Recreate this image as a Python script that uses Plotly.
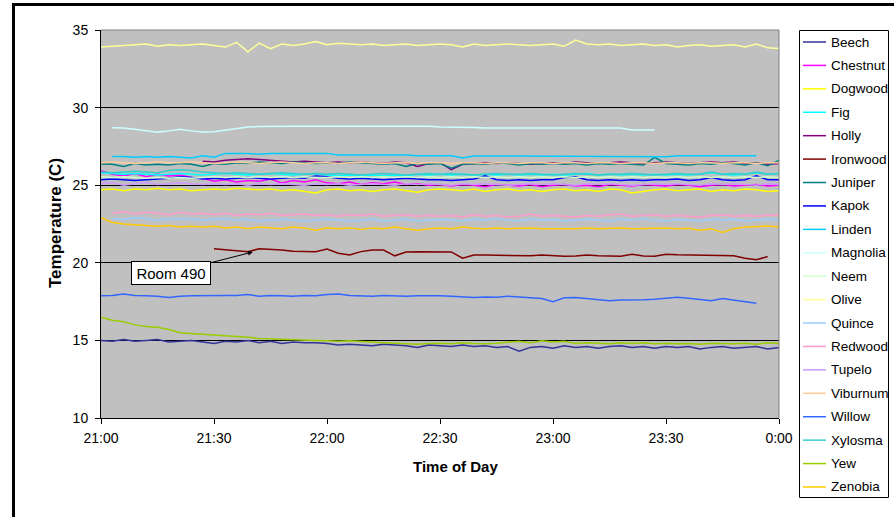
import pandas as pd
import plotly.graph_objects as go

# Sampling times: every 3 minutes from 21:00 to midnight
times = pd.date_range("2000-01-01 21:00", periods=61, freq="3min")

beech = [15.0, 14.95, 15.05, 14.95, 15.0, 15.05, 14.9, 14.95, 15.0, 14.9,
         14.8, 14.95, 14.9, 15.0, 14.85, 14.95, 14.8, 14.9, 14.85, 14.85,
         14.8, 14.7, 14.75, 14.7, 14.65, 14.75, 14.7, 14.65, 14.55, 14.7,
         14.65, 14.6, 14.7, 14.6, 14.65, 14.55, 14.6, 14.3, 14.55, 14.6,
         14.5, 14.65, 14.55, 14.6, 14.5, 14.6, 14.65, 14.55, 14.6, 14.5,
         14.6, 14.55, 14.6, 14.45, 14.55, 14.6, 14.5, 14.55, 14.6, 14.45, 14.55]
chestnut = [25.93, 25.7, 25.6, 25.75, 25.55, 25.7, 25.6, 25.65, 25.5, 25.45,
            25.25, 25.35, 25.2, 25.3, 25.25, 25.4, 25.15, 25.3, 25.2, 25.35,
            25.15, 25.1, 25.2, 25.05, 25.15, 25.1, 25.2, 25.05, 25.1, 25.0,
            25.05, 24.95, 25.05, 25.0, 24.9, 25.05, 25.0, 24.95, 25.05, 24.9,
            25.0, 25.05, 24.95, 25.0, 24.9, 25.05, 25.0, 24.95, 25.05, 25.0,
            24.95, 25.05, 25.0, 24.9, 25.0, 25.05, 24.95, 25.0, 25.05, 24.95, 25.0]
dogwood = [24.7, 24.75, 24.65, 24.75, 24.7, 24.8, 24.7, 24.75, 24.65, 24.7,
           24.75, 24.7, 24.8, 24.75, 24.7, 24.75, 24.65, 24.7, 24.6, 24.5,
           24.7, 24.75, 24.65, 24.7, 24.6, 24.7, 24.75, 24.65, 24.55, 24.7,
           24.75, 24.7, 24.65, 24.75, 24.6, 24.7, 24.75, 24.65, 24.7, 24.6,
           24.7, 24.75, 24.65, 24.7, 24.6, 24.75, 24.7, 24.5, 24.6, 24.7,
           24.75, 24.65, 24.7, 24.75, 24.6, 24.7, 24.65, 24.75, 24.7, 24.6, 24.65]
fig_t = [25.8, 25.75, 25.7, 25.75, 25.7, 25.65, 25.7, 25.75, 25.7, 25.65,
         25.7, 25.75, 25.7, 25.65, 25.7, 25.75, 25.7, 25.65, 25.7, 25.75,
         25.65, 25.6, 25.65, 25.6, 25.65, 25.6, 25.65, 25.6, 25.7, 25.65,
         25.7, 25.65, 25.7, 25.65, 25.7, 25.65, 25.7, 25.65, 25.7, 25.65,
         25.7, 25.65, 25.7, 25.75, 25.65, 25.7, 25.65, 25.7, 25.65, 25.7,
         25.65, 25.7, 25.65, 25.7, 25.8, 25.7, 25.65, 25.7, 25.8, 25.7, 25.75]
holly = [None, None, None, None, None, None, None, None, None, 26.55,
         26.5, 26.6, 26.65, 26.7, 26.65, 26.6, 26.55, 26.5, 26.55, 26.5,
         26.45, 26.5, 26.45, 26.5, 26.45, 26.4, 26.5, 26.45, 26.2, 26.4,
         26.45, 26.0, 26.35, 26.4, 26.45, 26.4, 26.45, 26.4, 26.35, 26.4,
         26.45, 26.4, 26.5, 26.45, 26.4, 26.45, 26.5, 26.45, 26.4, 26.45,
         26.5, 26.45, 26.4, 26.45, 26.5, 26.45, 26.5, 26.4, 26.45, 26.35, 26.4]
ironwood = [None, None, None, None, None, None, None, None, None, None,
            20.9, 20.85, 20.8, 20.72, 20.9, 20.88, 20.83, 20.75, 20.72, 20.72,
            20.88, 20.62, 20.5, 20.72, 20.83, 20.82, 20.45, 20.7, 20.72, 20.72,
            20.72, 20.7, 20.3, 20.5, 20.5, 20.48, 20.45, 20.45, 20.45, 20.5,
            20.45, 20.42, 20.44, 20.5, 20.45, 20.45, 20.42, 20.55, 20.44, 20.42,
            20.55, 20.52, 20.5, 20.48, 20.45, 20.45, 20.45, 20.3, 20.2, 20.4, None]
juniper = [26.37, 26.35, 26.2, 26.4, 26.3, 26.35, 26.3, 26.4, 26.35, 26.2,
           26.4, 26.35, 26.45, 26.4, 26.5, 26.45, 26.4, 26.5, 26.45, 26.4,
           26.45, 26.4, 26.5, 26.45, 26.4, 26.35, 26.4, 26.2, 26.4, 26.35,
           26.4, 26.1, 26.35, 26.4, 26.35, 26.45, 26.4, 26.3, 26.4, 26.35,
           26.4, 26.35, 26.4, 26.3, 26.4, 26.35, 26.4, 26.35, 26.3, 26.8,
           26.4, 26.35, 26.3, 26.4, 26.35, 26.45, 26.4, 26.3, 26.45, 26.25, 26.6]
kapok = [25.35, 25.4, 25.35, 25.3, 25.35, 25.4, 25.45, 25.55, 25.5, 25.4,
         25.45, 25.4, 25.45, 25.5, 25.45, 25.4, 25.45, 25.5, 25.45, 25.6,
         25.55, 25.45, 25.4, 25.45, 25.4, 25.35, 25.4, 25.45, 25.4, 25.35,
         25.35, 25.3, 25.35, 25.4, 25.6, 25.35, 25.3, 25.35, 25.3, 25.35,
         25.35, 25.5, 25.55, 25.35, 25.3, 25.35, 25.3, 25.35, 25.3, 25.35,
         25.35, 25.4, 25.3, 25.35, 25.5, 25.35, 25.3, 25.35, 25.6, 25.35, 25.35]
linden = [None, 26.85, 26.85, 26.8, 26.85, 26.8, 26.85, 26.8, 26.75, 26.9,
          26.8, 27.05, 27.05, 27.05, 27.0, 27.05, 27.05, 27.05, 27.05, 27.05,
          27.05, 26.95, 26.95, 26.95, 26.95, 26.95, 26.95, 26.95, 26.9, 26.9,
          26.9, 26.9, 26.75, 26.88, 26.88, 26.88, 26.88, 26.88, 26.88, 26.84,
          26.84, 26.84, 26.84, 26.84, 26.84, 26.84, 26.84, 26.84, 26.84, 26.84,
          26.84, 26.9, 26.9, 26.9, 26.9, 26.9, 26.9, 26.9, 26.9, None, None]
magnolia = [None, 28.7, 28.68, 28.6, 28.5, 28.42, 28.5, 28.6, 28.5, 28.42,
            28.45, 28.55, 28.65, 28.75, 28.78, 28.8, 28.8, 28.8, 28.8, 28.8,
            28.8, 28.8, 28.8, 28.8, 28.8, 28.8, 28.8, 28.8, 28.8, 28.8,
            28.75, 28.75, 28.75, 28.72, 28.68, 28.68, 28.68, 28.68, 28.68, 28.68,
            28.68, 28.68, 28.68, 28.68, 28.68, 28.68, 28.68, 28.56, 28.56, 28.56,
            None, None, None, None, None, None, None, None, None, None, None]
neem = [25.55, 25.5, 25.55, 25.5, 25.45, 25.5, 25.45, 25.5, 25.45, 25.5,
        25.55, 25.5, 25.55, 25.5, 25.55, 25.5, 25.55, 25.5, 25.55, 25.5,
        25.5, 25.55, 25.5, 25.55, 25.5, 25.55, 25.5, 25.55, 25.5, 25.55,
        25.5, 25.55, 25.5, 25.55, 25.5, 25.55, 25.5, 25.55, 25.5, 25.55,
        25.5, 25.55, 25.5, 25.55, 25.5, 25.55, 25.5, 25.55, 25.5, 25.55,
        25.5, 25.55, 25.5, 25.55, 25.5, 25.55, 25.5, 25.55, 25.5, 25.55, 25.5]
olive = [33.9, 33.95, 34.0, 34.05, 34.1, 33.95, 34.05, 34.0, 34.05, 34.1,
         34.0, 33.9, 34.2, 33.6, 34.15, 33.8, 34.1, 34.0, 34.1, 34.25,
         34.05, 34.15, 34.1, 34.05, 34.1, 34.0, 34.05, 34.1, 34.0, 34.05,
         34.1, 34.05, 33.9, 34.1, 34.0, 34.05, 34.1, 34.05, 34.0, 34.05,
         34.1, 33.95, 34.35, 34.1, 34.05, 34.1, 34.0, 34.05, 34.1, 34.0,
         34.05, 33.9, 34.0, 34.05, 33.95, 34.0, 34.05, 33.9, 34.1, 33.85, 33.8]
quince = [None, 22.85, 22.8, 22.9, 22.85, 22.75, 22.8, 22.85, 22.8, 22.75,
          22.8, 22.85, 22.75, 22.8, 22.7, 22.75, 22.8, 22.75, 22.7, 22.75,
          22.8, 22.75, 22.7, 22.75, 22.8, 22.7, 22.75, 22.8, 22.7, 22.75,
          22.8, 22.75, 22.7, 22.8, 22.75, 22.85, 22.75, 22.7, 22.8, 22.75,
          22.8, 22.7, 22.75, 22.8, 22.75, 22.7, 22.8, 22.75, 22.85, 22.75,
          22.7, 22.8, 22.75, 22.7, 22.8, 22.75, 22.8, 22.7, 22.75, 22.8, 22.75]
redwood = [None, 23.2, 23.3, 23.15, 23.25, 23.2, 23.1, 23.25, 23.15, 23.2,
           23.1, 23.2, 23.05, 23.15, 23.1, 23.2, 23.05, 23.1, 23.15, 23.05,
           23.1, 23.0, 23.1, 23.05, 23.15, 23.0, 23.05, 23.1, 23.0, 23.05,
           23.0, 23.05, 22.95, 23.1, 23.0, 23.05, 22.95, 23.0, 23.15, 23.0,
           23.05, 23.0, 22.95, 23.05, 23.0, 23.1, 23.15, 23.0, 23.05, 23.1,
           23.0, 23.05, 23.0, 22.95, 23.05, 23.1, 23.0, 23.05, 23.0, 23.05, 23.1]
tupelo = [25.1, 25.15, 25.0, 25.1, 25.15, 25.05, 25.1, 25.15, 25.1, 25.05,
          25.1, 25.05, 25.1, 25.0, 25.1, 25.05, 25.1, 25.05, 25.0, 25.1,
          25.05, 25.1, 25.0, 25.05, 25.1, 25.05, 25.0, 25.1, 25.05, 25.1,
          25.05, 25.0, 25.1, 25.05, 25.1, 25.05, 25.0, 25.05, 25.1, 25.05,
          25.1, 25.05, 25.0, 25.1, 25.05, 25.1, 25.05, 25.0, 25.05, 25.1,
          25.05, 25.1, 25.05, 25.0, 25.1, 25.05, 25.1, 25.05, 25.0, 25.1, 25.05]
viburnum = [26.45, 26.5, 26.45, 26.4, 26.45, 26.5, 26.45, 26.45, 26.5, 26.45,
            26.4, 26.45, 26.5, 26.45, 26.4, 26.45, 26.5, 26.45, 26.4, 26.45,
            26.45, 26.4, 26.45, 26.5, 26.45, 26.4, 26.45, 26.45, 26.4, 26.45,
            26.45, 26.4, 26.45, 26.45, 26.4, 26.45, 26.45, 26.4, 26.45, 26.45,
            26.4, 26.45, 26.45, 26.4, 26.45, 26.45, 26.4, 26.45, 26.45, 26.4,
            26.45, 26.45, 26.4, 26.45, 26.45, 26.4, 26.45, 26.45, 26.4, 26.45, 26.45]
willow = [17.88, 17.9, 17.99, 17.9, 17.88, 17.85, 17.77, 17.85, 17.88, 17.9,
          17.88, 17.9, 17.9, 17.95, 17.85, 17.9, 17.88, 17.85, 17.9, 17.88,
          17.95, 17.99, 17.9, 17.88, 17.85, 17.9, 17.88, 17.85, 17.88, 17.9,
          17.88, 17.85, 17.8, 17.76, 17.8, 17.78, 17.85, 17.8, 17.78, 17.7,
          17.5, 17.75, 17.76, 17.7, 17.62, 17.56, 17.6, 17.6, 17.62, 17.65,
          17.7, 17.78, 17.72, 17.65, 17.56, 17.7, 17.6, 17.5, 17.39, None, None]
xylosma = [25.85, 25.8, 25.85, 25.9, 25.85, 25.8, 25.95, 26.0, 25.95, 25.85,
           25.8, 25.75, 25.8, 25.75, 25.7, 25.75, 25.8, 25.75, 25.7, 25.75,
           25.7, 25.75, 25.7, 25.65, 25.7, 25.75, 25.7, 25.65, 25.7, 25.75,
           25.7, 25.75, 25.7, 25.65, 25.7, 25.75, 25.7, 25.7, 25.75, 25.7,
           25.65, 25.7, 25.75, 25.7, 25.65, 25.7, 25.7, 25.75, 25.7, 25.65,
           25.7, 25.75, 25.7, 25.7, 25.85, 25.7, 25.75, 25.7, 25.85, 25.7, 25.75]
yew = [16.5, 16.3, 16.2, 16.0, 15.9, 15.85, 15.7, 15.5, 15.45, 15.4,
       15.35, 15.3, 15.28, 15.2, 15.13, 15.1, 15.05, 15.02, 15.0, 15.0,
       14.98, 14.95, 14.97, 14.92, 14.9, 14.85, 14.82, 14.8, 14.75, 14.8,
       14.82, 14.78, 14.85, 14.8, 14.78, 14.82, 14.9, 14.95, 14.85, 14.97,
       14.9, 14.95, 14.8, 14.85, 14.82, 14.78, 14.85, 14.8, 14.85, 14.78,
       14.82, 14.78, 14.8, 14.75, 14.82, 14.8, 14.78, 14.82, 14.75, 14.85, 14.8]
zenobia = [22.9, 22.6, 22.5, 22.45, 22.4, 22.35, 22.4, 22.3, 22.35, 22.3,
           22.35, 22.25, 22.3, 22.2, 22.3, 22.25, 22.2, 22.3, 22.25, 22.1,
           22.25, 22.2, 22.25, 22.15, 22.25, 22.2, 22.3, 22.2, 22.1, 22.2,
           22.25, 22.2, 22.3, 22.22, 22.2, 22.25, 22.2, 22.22, 22.25, 22.2,
           22.2, 22.22, 22.2, 22.25, 22.2, 22.22, 22.25, 22.2, 22.22, 22.2,
           22.25, 22.2, 22.22, 22.1, 22.2, 21.95, 22.2, 22.3, 22.35, 22.37, 22.3]

room_names = ["Beech", "Chestnut", "Dogwood", "Fig", "Holly", "Ironwood", "Juniper",
              "Kapok", "Linden", "Magnolia", "Neem", "Olive", "Quince", "Redwood",
              "Tupelo", "Viburnum", "Willow", "Xylosma", "Yew", "Zenobia"]
room_values = [beech, chestnut, dogwood, fig_t, holly, ironwood, juniper, kapok, linden,
               magnolia, neem, olive, quince, redwood, tupelo, viburnum, willow,
               xylosma, yew, zenobia]
room_colors = ["#333399", "#FF00FF", "#FFFF00", "#00FFFF", "#800080", "#800000",
               "#008080", "#0000FF", "#00CCFF", "#CCFFFF", "#CCFFCC", "#FFFF99",
               "#99CCFF", "#FF99CC", "#CC99FF", "#FFCC99", "#3366FF", "#33CCCC",
               "#99CC00", "#FFCC00"]

# Annotated reading on the Ironwood trace
note_time = pd.Timestamp("2000-01-01 21:40:20")
note_value = 20.7

FONT = "Liberation Sans"

# Plot area in pixels: x 101..779, y 30..418
PL, PR, PT, PB = 101, 779, 30, 418
W, H = 894, 517


def px_x(p):
    return (p - PL) / (PR - PL)


def px_y(p):
    return (PB - p) / (PB - PT)


fig = go.Figure()
for name, vals, col in zip(room_names, room_values, room_colors):
    fig.add_trace(go.Scatter(
        x=times, y=vals, name=name, mode="lines", showlegend=False,
        line=dict(color=col, width=1.5), connectgaps=False,
    ))

fig.add_annotation(
    x=note_time, y=note_value, text="Room 490",
    showarrow=True, arrowhead=2, arrowsize=1, arrowwidth=1, arrowcolor="black",
    ax=-82, ay=21, axref="pixel", ayref="pixel",
    bgcolor="white", bordercolor="black", borderwidth=1, borderpad=2,
    width=74, height=18,
    font=dict(family=FONT, size=15, color="black"),
)

shapes = []
annotations = []

# Plot-area frame (top and right edges) and outer chart border
shapes.append(dict(type="line", xref="paper", yref="paper", x0=0, x1=1, y0=1, y1=1,
                   line=dict(color="#808080", width=1), layer="above"))
shapes.append(dict(type="line", xref="paper", yref="paper", x0=1, x1=1, y0=0, y1=1,
                   line=dict(color="#808080", width=1), layer="above"))
shapes.append(dict(type="rect", xref="paper", yref="paper",
                   x0=px_x(13.5), x1=px_x(899), y0=px_y(522), y1=px_y(4.5),
                   line=dict(color="black", width=3), fillcolor="rgba(0,0,0,0)",
                   layer="above"))

# Legend box with one line sample and label per room
shapes.append(dict(type="rect", xref="paper", yref="paper",
                   x0=px_x(799.5), x1=px_x(888.5), y0=px_y(497.5), y1=px_y(30.5),
                   line=dict(color="black", width=1), fillcolor="white", layer="above"))
for i, (name, col) in enumerate(zip(room_names, room_colors)):
    yy = px_y(42 + i * 23.42)
    shapes.append(dict(type="line", xref="paper", yref="paper",
                       x0=px_x(803), x1=px_x(826), y0=yy, y1=yy,
                       line=dict(color=col, width=1.5), layer="above"))
    annotations.append(dict(xref="paper", yref="paper", x=px_x(829), y=yy,
                            xanchor="left", yanchor="middle", text=name,
                            showarrow=False,
                            font=dict(family=FONT, size=13.5, color="black")))

# Axis titles
annotations.append(dict(xref="paper", yref="paper", x=px_x(455), y=px_y(466),
                        xanchor="center", yanchor="middle",
                        text="<b>Time of Day</b>", showarrow=False,
                        font=dict(family=FONT, size=15, color="black")))
annotations.append(dict(xref="paper", yref="paper", x=px_x(55), y=px_y(223),
                        xanchor="center", yanchor="middle", textangle=-90,
                        text="<b>Temperature (C)</b>", showarrow=False,
                        font=dict(family=FONT, size=17, color="black")))

for s in shapes:
    fig.add_shape(**s)
for a in annotations:
    fig.add_annotation(**a)

fig.update_layout(
    width=W, height=H,
    margin=dict(l=PL, r=W - PR, t=PT, b=H - PB),
    paper_bgcolor="white", plot_bgcolor="#C0C0C0",
    font=dict(family=FONT, size=14, color="black"),
    showlegend=False,
    xaxis=dict(
        type="date",
        range=[pd.Timestamp("2000-01-01 21:00"), pd.Timestamp("2000-01-02 00:00")],
        dtick=30 * 60 * 1000, tick0=pd.Timestamp("2000-01-01 21:00"),
        tickformat="%-H:%M", ticks="outside", ticklen=5, tickcolor="black",
        showline=True, linecolor="black", linewidth=1, showgrid=False,
        tickfont=dict(size=14, color="black"), ticklabelstandoff=2,
    ),
    yaxis=dict(
        range=[10, 35], dtick=5, ticks="outside", ticklen=5, tickcolor="black",
        showline=True, linecolor="black", linewidth=1,
        showgrid=True, gridcolor="black", gridwidth=1, zeroline=False,
        tickfont=dict(size=14, color="black"), ticklabelstandoff=4,
    ),
)

fig.write_html("out.html")
